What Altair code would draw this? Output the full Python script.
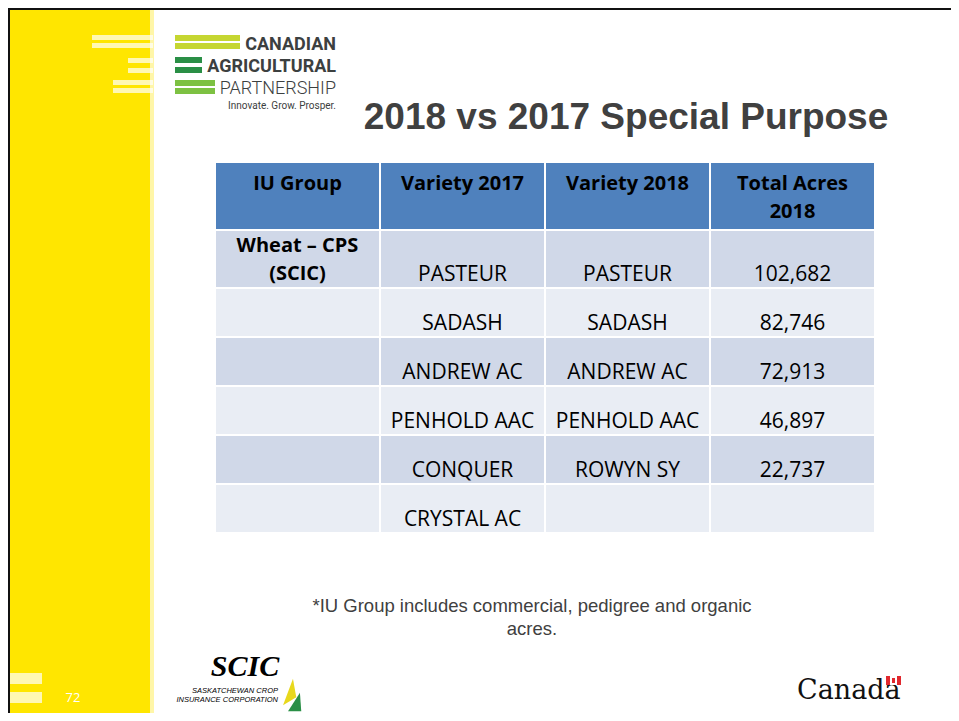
import altair as alt
import pandas as pd

# ---------------- content ----------------
header = ["IU Group", "Variety 2017", "Variety 2018", "Total Acres\n2018"]
iu_group = ["Wheat – CPS\n(SCIC)", "", "", "", "", ""]
variety_2017 = ["PASTEUR", "SADASH", "ANDREW AC", "PENHOLD AAC", "CONQUER", "CRYSTAL AC"]
variety_2018 = ["PASTEUR", "SADASH", "ANDREW AC", "PENHOLD AAC", "ROWYN SY", ""]
total_acres_2018 = [102682, 82746, 72913, 46897, 22737, None]

title_text = "2018 vs 2017 Special Purpose"
footnote_lines = ["*IU Group includes commercial, pedigree and organic", "acres."]
page_number = "72"
logo_lines = ["CANADIAN", "AGRICULTURAL", "PARTNERSHIP"]
logo_tagline = "Innovate. Grow. Prosper."
scic_lines = ["SASKATCHEWAN CROP", "INSURANCE CORPORATION"]

# ---------------- layout / style ----------------
HEADER_BLUE = "#4F81BD"
ROW_DARK = "#D0D8E8"
ROW_LIGHT = "#E9EDF4"
YELLOW = "#FFE600"
GREY_TXT = "#404040"
BODY_FONT = "Open Sans"

col_edges = [215, 380, 545, 710, 875]
header_top, header_bottom = 163, 229
row_edges = [231, 288, 337, 386, 435, 484, 533]

PW, PH = 943, 705  # plot area: page (959x721) minus the 8px margins
xs = alt.Scale(domain=[8, 8 + PW], nice=False, zero=False)
ys = alt.Scale(domain=[8, 8 + PH], nice=False, zero=False, reverse=True)


def rect_layer(df, **kw):
    return alt.Chart(df).mark_rect(**kw).encode(
        x=alt.X("x:Q", scale=xs, axis=None),
        x2="x2:Q",
        y=alt.Y("y:Q", scale=ys, axis=None),
        y2="y2:Q",
        color=alt.Color("fill:N", scale=None),
    )


def text_layer(df, **kw):
    return alt.Chart(df).mark_text(**kw).encode(
        x=alt.X("x:Q", scale=xs, axis=None),
        y=alt.Y("y:Q", scale=ys, axis=None),
        text="t:N",
    )


# ---------------- background decorations ----------------
bg = pd.DataFrame([
    dict(x=8, x2=150, y=8, y2=8 + PH, fill=YELLOW),
    dict(x=150, x2=154, y=8, y2=8 + PH, fill="#FFF6A8"),
])
bg_layer = rect_layer(bg)

stripes = pd.DataFrame([
    dict(x=92, x2=153, y=35, y2=40, fill="#FFFFFF"),
    dict(x=92, x2=153, y=43, y2=48, fill="#FFFFFF"),
    dict(x=128, x2=153, y=58, y2=63, fill="#FFFFFF"),
    dict(x=128, x2=153, y=68, y2=73, fill="#FFFFFF"),
    dict(x=113, x2=153, y=80, y2=85, fill="#FFFFFF"),
    dict(x=113, x2=153, y=88, y2=93, fill="#FFFFFF"),
    dict(x=10, x2=42, y=673, y2=684, fill="#FFFFFF"),
    dict(x=10, x2=42, y=692, y2=703, fill="#FFFFFF"),
])
stripe_layer = rect_layer(stripes, opacity=0.7)

border = pd.DataFrame([
    dict(x=8, x2=8 + PW, y=8, y2=10, fill="#111111"),
    dict(x=8, x2=10, y=8, y2=8 + PH, fill="#111111"),
])
border_layer = rect_layer(border)

# logo bars
bars = pd.DataFrame([
    dict(x=175, x2=240, y=35, y2=41, fill="#C5D631"),
    dict(x=175, x2=240, y=43, y2=49, fill="#C5D631"),
    dict(x=175, x2=202, y=57, y2=63, fill="#2A8F46"),
    dict(x=175, x2=202, y=67, y2=73, fill="#2A8F46"),
    dict(x=175, x2=215, y=80, y2=86, fill="#7DC142"),
    dict(x=175, x2=215, y=88, y2=94, fill="#7DC142"),
])
bar_layer = rect_layer(bars)

logo_bold = text_layer(
    pd.DataFrame(dict(x=[336, 336], y=[50, 72], t=logo_lines[:2])),
    font="Roboto", fontSize=18, fontWeight="bold", color="#3C4040", align="right", baseline="alphabetic",
)
logo_light = text_layer(
    pd.DataFrame(dict(x=[336], y=[94], t=[logo_lines[2]])),
    font="Roboto", fontSize=18, fontWeight=300, color="#3C4040", align="right", baseline="alphabetic",
)
logo_tag = text_layer(
    pd.DataFrame(dict(x=[336], y=[109], t=[logo_tagline])),
    font="Roboto", fontSize=10, color="#3C4040", align="right", baseline="alphabetic",
)

# ---------------- title & footnote ----------------
title_layer = text_layer(
    pd.DataFrame(dict(x=[626], y=[129], t=[title_text])),
    font="Liberation Sans", fontSize=37, fontWeight="bold", color=GREY_TXT, align="center", baseline="alphabetic",
)
foot_layer = text_layer(
    pd.DataFrame(dict(x=[532, 532], y=[612, 635], t=footnote_lines)),
    font="Liberation Sans", fontSize=18.5, color=GREY_TXT, align="center", baseline="alphabetic",
)

# ---------------- table ----------------
cells = []
for c in range(4):
    cells.append(dict(x=col_edges[c] + 1, x2=col_edges[c + 1] - 1, y=header_top, y2=header_bottom, fill=HEADER_BLUE))
for r in range(6):
    top = row_edges[r] + (0 if r == 0 else 1)
    bottom = row_edges[r + 1] - 1
    for c in range(4):
        cells.append(dict(x=col_edges[c] + 1, x2=col_edges[c + 1] - 1, y=top, y2=bottom,
                          fill=ROW_DARK if r % 2 == 0 else ROW_LIGHT))
cell_layer = rect_layer(pd.DataFrame(cells))

centers = [(col_edges[i] + col_edges[i + 1]) / 2 for i in range(4)]

head_layer = text_layer(
    pd.DataFrame(dict(x=centers, y=[190] * 4, t=header)),
    font=BODY_FONT, fontSize=20, fontWeight="bold", color="#000000", align="center",
    baseline="alphabetic", lineBreak="\n", lineHeight=28,
)

iu_layer = text_layer(
    pd.DataFrame(dict(x=[centers[0]], y=[252], t=[iu_group[0]])),
    font=BODY_FONT, fontSize=20, fontWeight="bold", color="#000000", align="center",
    baseline="alphabetic", lineBreak="\n", lineHeight=28,
)

body = []
for r in range(6):
    yb = row_edges[r + 1] - 7
    acres = "" if total_acres_2018[r] is None else f"{total_acres_2018[r]:,}"
    for c, val in zip([1, 2, 3], [variety_2017[r], variety_2018[r], acres]):
        if val:
            body.append(dict(x=centers[c], y=yb, t=val))
body_layer = text_layer(
    pd.DataFrame(body),
    font=BODY_FONT, fontSize=21, color="#000000", align="center", baseline="alphabetic",
)

# ---------------- footer logos ----------------
pnum_layer = text_layer(
    pd.DataFrame(dict(x=[73], y=[702], t=[page_number])),
    font=BODY_FONT, fontSize=13, color="#FFFFFF", align="center", baseline="alphabetic",
)
scic_big = text_layer(
    pd.DataFrame(dict(x=[245], y=[676], t=["SCIC"])),
    font="Liberation Serif", fontSize=30, fontWeight="bold", fontStyle="italic", color="#000000",
    align="center", baseline="alphabetic",
)
scic_small = text_layer(
    pd.DataFrame(dict(x=[278, 278], y=[693, 702], t=scic_lines)),
    font="Liberation Sans", fontSize=7.5, fontStyle="italic", color="#000000",
    align="right", baseline="alphabetic",
)
wheat = pd.DataFrame([
    dict(x=289, y=692, fill="#E8D81C", shape="M0.3,-1 L0.55,0.4 L-0.45,1 Z"),
    dict(x=292, y=698, fill="#2A8F46", shape="M0.6,-0.4 L0.7,1 L-0.3,1 Z"),
])
wheat_layer = alt.Chart(wheat).mark_point(filled=True, opacity=1, size=700).encode(
    x=alt.X("x:Q", scale=xs, axis=None),
    y=alt.Y("y:Q", scale=ys, axis=None),
    color=alt.Color("fill:N", scale=None),
    shape=alt.Shape("shape:N", scale=None),
)

canada_layer = text_layer(
    pd.DataFrame(dict(x=[797], y=[699], t=["Canada"])),
    font="DejaVu Serif", fontSize=27, color="#111111", align="left", baseline="alphabetic",
)
flag = pd.DataFrame([
    dict(x=886, x2=890, y=676, y2=685, fill="#E0282E"),
    dict(x=890, x2=897, y=676, y2=685, fill="#FFFFFF"),
    dict(x=897, x2=901, y=676, y2=685, fill="#E0282E"),
    dict(x=892, x2=895, y=678, y2=683, fill="#E0282E"),
])
flag_layer = rect_layer(flag)

chart = alt.layer(
    bg_layer, stripe_layer, border_layer, bar_layer, logo_bold, logo_light, logo_tag,
    title_layer, foot_layer, cell_layer, head_layer, iu_layer, body_layer,
    pnum_layer, scic_big, scic_small, wheat_layer, canada_layer, flag_layer,
).properties(width=PW, height=PH, padding=0, autosize=alt.AutoSizeParams(type="none")).configure_view(
    stroke=None
).configure(background="#FFFFFF")

chart.save("out.html", embed_options={"renderer": "svg", "actions": False})
